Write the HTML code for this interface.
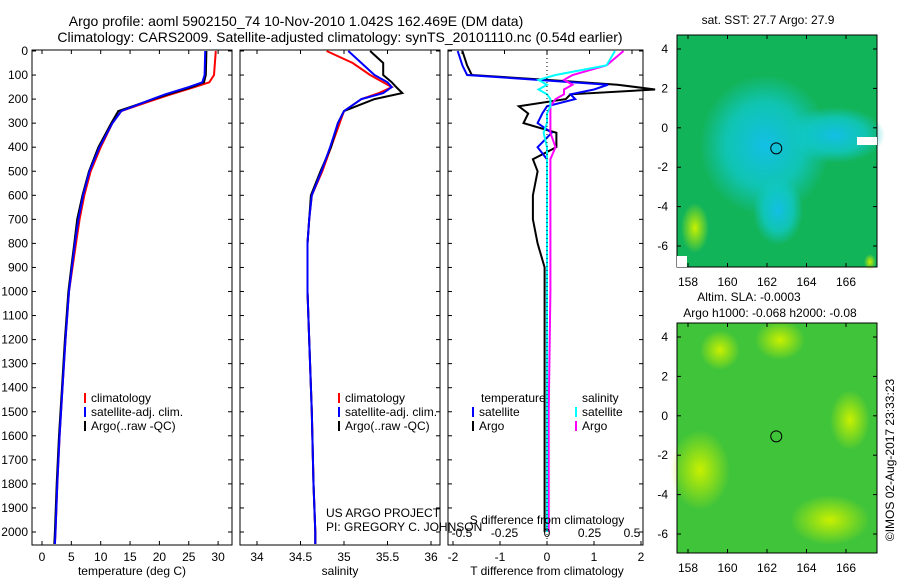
<!DOCTYPE html>
<html><head><meta charset="utf-8"><style>
body{margin:0;background:#fff;font-family:"Liberation Sans",sans-serif;}
svg text{font-family:"Liberation Sans",sans-serif;font-size:12px;fill:#000}
</style></head><body>
<svg id="c" width="900" height="580" viewBox="0 0 900 580">
<defs>
<radialGradient id="g1" cx="50%" cy="50%" r="50%"><stop offset="0" stop-color="#12bfe6"/><stop offset="0.6" stop-color="#10c8c8" stop-opacity="0.8"/><stop offset="1" stop-color="#10c8c8" stop-opacity="0"/></radialGradient>
<radialGradient id="g2" cx="50%" cy="50%" r="50%"><stop offset="0" stop-color="#c8f000"/><stop offset="1" stop-color="#c8f000" stop-opacity="0"/></radialGradient>
</defs>
</svg>
<script>
// ---- data ----
const depthT=[0,100,130,150,180,200,250,300,400,500,600,700,800,900,1000,1200,1400,1600,1800,2000,2050];
const tempClim=[29.6,29.3,28.5,26,22,19.5,13.5,12,10,8.3,7.2,6.4,5.8,5.2,4.6,4,3.5,3,2.6,2.3,2.2];
const tempSat=[27.8,27.7,27.3,25,21,18.8,13.5,12,9.8,8.1,7,6.2,5.6,5.1,4.6,4,3.5,3,2.6,2.3,2.2];
const tempArgo=[28,27.9,27.6,25.5,21.5,19,13,11.8,9.6,8,6.9,6,5.5,5,4.5,3.9,3.4,2.9,2.5,2.2,2.1];
const depthS=[0,50,100,130,150,175,200,250,300,400,500,600,700,800,1000,1200,1500,1800,2000,2050];
const salClim=[34.8,35.1,35.3,35.45,35.55,35.4,35.2,35.0,34.95,34.85,34.75,34.63,34.6,34.58,34.58,34.6,34.63,34.65,34.67,34.67];
const salSat=[35.05,35.2,35.35,35.5,35.55,35.45,35.2,35.0,34.93,34.84,34.74,34.63,34.6,34.58,34.58,34.6,34.63,34.65,34.67,34.67];
const salArgo=[35.3,35.45,35.45,35.55,35.6,35.67,35.35,35.0,34.93,34.85,34.73,34.62,34.6,34.58,34.58,34.6,34.63,34.65,34.67,34.67];
const depthD=[0,60,100,120,140,160,180,200,230,260,300,340,400,450,500,600,700,800,900,1000,1500,2000];
const dTsat=[-1.9,-1.8,-1.7,-0.2,1.3,1.0,0.5,0.6,0,-0.1,-0.2,0.1,-0.2,0,0,0,0,0,0,0,0,0];
const dTargo=[-1.8,-1.7,-1.6,0,1.5,2.3,0.5,0.4,-0.6,-0.4,-0.5,0.2,0.2,-0.3,-0.2,-0.3,-0.3,-0.2,-0.05,-0.05,-0.05,-0.05];
const dSsat=[0.4,0.35,0.05,-0.05,0,-0.05,0,0.02,0.02,0,0,-0.02,0,0,0,0,0,0,0,0,0,0];
const dSargo=[0.45,0.35,0.15,0.1,0.15,0.1,0.1,0.05,0.02,0.02,0.02,0.02,0.05,0.02,0.02,0.02,0.02,0.02,0.02,0.02,0.01,0.01];
const depthTicks=[0,100,200,300,400,500,600,700,800,900,1000,1100,1200,1300,1400,1500,1600,1700,1800,1900,2000];
const tTicks=[0,5,10,15,20,25,30];
const sTicks=[34,34.5,35,35.5,36];
const dTTicks=[-2,-1,0,1,2];
const dSTicks=[-0.5,-0.25,0,0.25,0.5];
const dSLabels=["-0.5","-0.25","0","0.25","0.5"];
const latTicks=[4,2,0,-2,-4,-6];
const lonTicks=[158,160,162,164,166];

const svg=document.getElementById('c');
const NS='http://www.w3.org/2000/svg';
function el(t,a,p){const e=document.createElementNS(NS,t);for(const k in a)e.setAttribute(k,a[k]);(p||svg).appendChild(e);return e;}
function txt(x,y,s,anchor,name,size){const e=el('text',{x:x,y:y,'text-anchor':anchor||'start'});e.textContent=s;if(size)e.style.fontSize=size+'px';


return e;}
const yD=d=>51+d*0.2405;
const xT=t=>42+t*5.87;
const xS=s=>257+(s-34)*87;
const xDT=v=>547+v*47;
const xDS=v=>547+v*170;

txt(296,26,"Argo profile: aoml 5902150_74 10-Nov-2010 1.042S 162.469E (DM data)","middle","title-line-1",14);
txt(340,42,"Climatology: CARS2009. Satellite-adjusted climatology: synTS_20101110.nc (0.54d earlier)","middle","title-line-2",14);

function panel(x0,w,name){
 const g=el('g',{});
 
 
 const r=el('rect',{x:x0,y:50,width:w,height:495,fill:'none',stroke:'#000','stroke-width':1},g);
 
 
 return g;}
function line(xs,ds,fx,color,name,g,w){
 const pts=xs.map((v,i)=>fx(v).toFixed(1)+','+yD(ds[i]).toFixed(1)).join(' ');
 const p=el('polyline',{points:pts,fill:'none',stroke:color,'stroke-width':w||2},g);
 
 }

const p1=panel(32,200,'temperature-panel'),p2=panel(240,200,'salinity-panel'),p3=panel(448,195,'difference-panel');
depthTicks.forEach(d=>{txt(28,yD(d)+4,String(d),'end','depth-tick-label');
 [32,240,448].forEach((x0,i)=>{el('line',{x1:x0,x2:x0+4,y1:yD(d),y2:yD(d),stroke:'#000'});const xr=[232,440,643][i];el('line',{x1:xr-4,x2:xr,y1:yD(d),y2:yD(d),stroke:'#000'});});});
tTicks.forEach(t=>{txt(xT(t),561,String(t),'middle','temp-tick-label');el('line',{x1:xT(t),x2:xT(t),y1:541,y2:545,stroke:'#000'});el('line',{x1:xT(t),x2:xT(t),y1:50,y2:54,stroke:'#000'});});
sTicks.forEach(s=>{txt(xS(s),561,String(s),'middle','salinity-tick-label');el('line',{x1:xS(s),x2:xS(s),y1:541,y2:545,stroke:'#000'});el('line',{x1:xS(s),x2:xS(s),y1:50,y2:54,stroke:'#000'});});
dTTicks.forEach(v=>{txt(xDT(v),561,String(v),'middle','t-diff-tick-label');el('line',{x1:xDT(v),x2:xDT(v),y1:541,y2:545,stroke:'#000'});});
dSTicks.forEach((v,i)=>{txt(xDS(v),537,dSLabels[i],'middle','s-diff-tick-label');el('line',{x1:xDS(v),x2:xDS(v),y1:50,y2:54,stroke:'#000'});});
txt(132,575,"temperature (deg C)","middle","temperature-axis-title");
txt(340,575,"salinity","middle","salinity-axis-title");
txt(547,575,"T difference from climatology","middle","t-diff-axis-title");
txt(547,524,"S difference from climatology","middle","s-diff-axis-title");
el('line',{x1:547,x2:547,y1:50,y2:545,stroke:'#000','stroke-dasharray':'1,3'});

line(tempClim,depthT,xT,'#f00','temp-climatology-line',p1);
line(tempArgo,depthT,xT,'#000','temp-argo-line',p1);
line(tempSat,depthT,xT,'#00f','temp-satellite-line',p1);
line(salClim,depthS,xS,'#f00','salinity-climatology-line',p2);
line(salArgo,depthS,xS,'#000','salinity-argo-line',p2);
line(salSat,depthS,xS,'#00f','salinity-satellite-line',p2);
line(dTargo,depthD,xDT,'#000','t-diff-argo-line',p3);
line(dTsat,depthD,xDT,'#00f','t-diff-satellite-line',p3);
line(dSargo,depthD,xDS,'#f0f','s-diff-argo-line',p3);
line(dSsat,depthD,xDS,'#0ff','s-diff-satellite-line',p3);

function legend(x,y,items,name){items.forEach((it,i)=>{el('line',{x1:x,x2:x,y1:y+i*14-9,y2:y+i*14+1,stroke:it[1],'stroke-width':2});txt(x+6,y+i*14,it[0],'start',name+'-entry');});}
legend(85,402,[["climatology","#f00"],["satellite-adj. clim.","#00f"],["Argo(..raw -QC)","#000"]],'temp-legend');
legend(339,402,[["climatology","#f00"],["satellite-adj. clim.","#00f"],["Argo(..raw -QC)","#000"]],'salinity-legend');
txt(481,402,"temperature","start","diff-legend-temperature-header");
legend(473,416,[["satellite","#00f"],["Argo","#000"]],'t-diff-legend');
txt(582,402,"salinity","start","diff-legend-salinity-header");
legend(576,416,[["satellite","#0ff"],["Argo","#f0f"]],'s-diff-legend');
txt(326,517,"US ARGO PROJECT","start","project-credit");
txt(326,531,"PI: GREGORY C. JOHNSON","start","pi-credit");

function map(y0,h,base,blobs,name){
 const g=el('g',{});
 el('rect',{x:677,y:y0,width:200,height:h,fill:base},g);
 blobs.forEach(b=>el('ellipse',{cx:b[0],cy:b[1],rx:b[2],ry:b[3],fill:b[4]},g));
 el('rect',{x:677,y:y0,width:200,height:h,fill:'none',stroke:'#000'},g);
 const yL=v=>y0+14+(4-v)*19.7, xL=v=>688+(v-158)*19.75;
 latTicks.forEach(v=>{txt(668,yL(v)+4,String(v),'end','lat-tick-label');el('line',{x1:677,x2:681,y1:yL(v),y2:yL(v),stroke:'#000'});el('line',{x1:873,x2:877,y1:yL(v),y2:yL(v),stroke:'#000'});});
 lonTicks.forEach(v=>{txt(xL(v),y0+h+19,String(v),'middle','lon-tick-label');el('line',{x1:xL(v),x2:xL(v),y1:y0,y2:y0+4,stroke:'#000'});el('line',{x1:xL(v),x2:xL(v),y1:y0+h-4,y2:y0+h,stroke:'#000'});});
 const c=el('circle',{cx:xL(162.469),cy:yL(-1.042),r:5.5,fill:'none',stroke:'#000'},g);
 
 
}
map(35,232,'#12b45a',[[765,145,65,70,'url(#g1)'],[835,135,50,28,'url(#g1)'],[778,210,25,35,'url(#g1)'],[695,228,14,25,'url(#g2)'],[870,262,6,8,'url(#g2)']],'sst-map');
el('rect',{x:857,y:137,width:20,height:8,fill:'#fff'});
el('rect',{x:677,y:256,width:10,height:11,fill:'#fff'});
txt(768,24,"sat. SST: 27.7 Argo: 27.9","middle","sst-map-title");
map(323,230,'#40c43a',[[700,470,30,40,'url(#g2)'],[780,340,25,20,'url(#g2)'],[830,520,40,25,'url(#g2)'],[720,350,20,20,'url(#g2)'],[850,420,20,30,'url(#g2)']],'sla-map');
txt(749,301,"Altim. SLA: -0.0003","middle","sla-map-title");
txt(770,317,"Argo h1000: -0.068 h2000: -0.08","middle","argo-height-label");
const t=txt(0,0,"©IMOS 02-Aug-2017 23:33:23","middle","timestamp-credit");
t.setAttribute('transform','translate(894,460) rotate(-90)');
</script>
</body></html>
